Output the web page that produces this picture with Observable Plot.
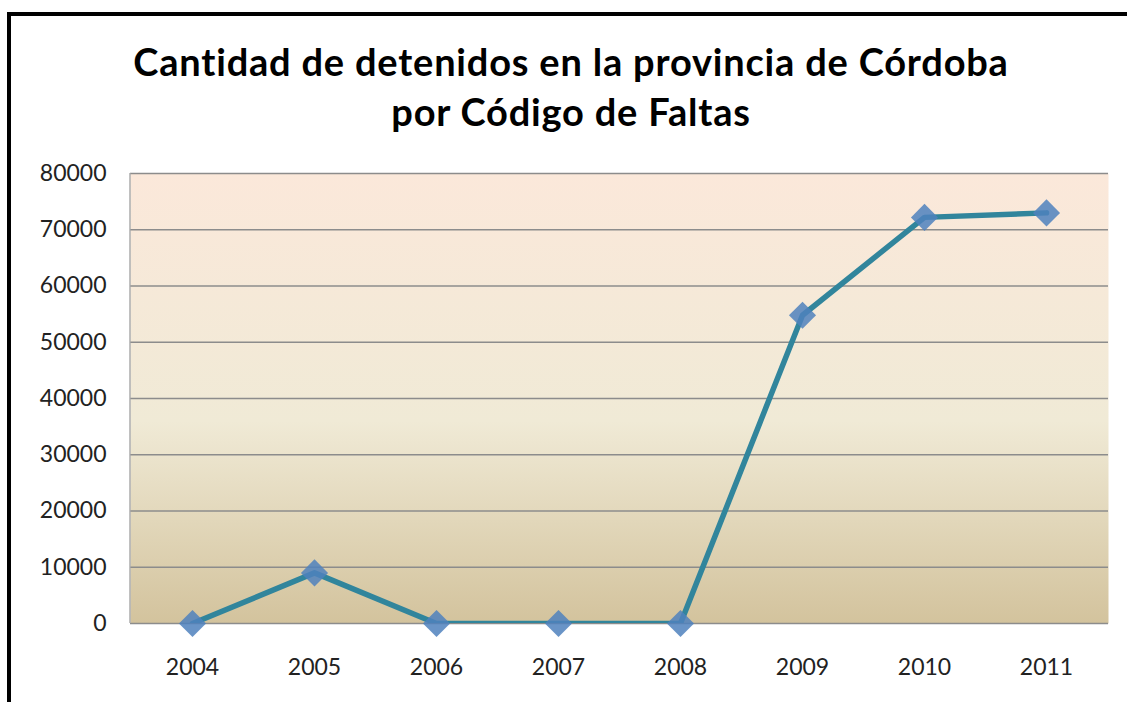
<!DOCTYPE html>
<html>
<head>
<meta charset="utf-8">
<script src="https://cdn.jsdelivr.net/npm/d3@7"></script>
<script src="https://cdn.jsdelivr.net/npm/@observablehq/plot@0.6"></script>
<style>
  html, body { margin: 0; padding: 0; background: #fff; overflow: hidden; width: 1127px; height: 702px; }
  #wrap { position: relative; width: 1127px; height: 702px; }
  #frame { position: absolute; left: 7px; top: 12px; width: 1200px; height: 800px;
           border-left: 4.5px solid #000; border-top: 4.5px solid #000; box-sizing: border-box; }
  #title { position: absolute; left: 0; top: 36px; width: 1142px; text-align: center;
           font-family: Lato, "Open Sans", sans-serif; font-weight: bold; font-size: 38px;
           letter-spacing: 0.8px; line-height: 50px; color: #000; }
  #chart { position: absolute; left: 0; top: 0; }
</style>
</head>
<body>
<div id="wrap">
  <div id="frame"></div>
  <div id="chart"></div>
  <div id="title">Cantidad de detenidos en la provincia de Córdoba<br>por Código de Faltas</div>
</div>
<script>
const years = ["2004", "2005", "2006", "2007", "2008", "2009", "2010", "2011"];
const detenidos = [0, 9000, 0, 0, 0, 54800, 72200, 73000];
const yTicks = [0, 10000, 20000, 30000, 40000, 50000, 60000, 70000, 80000];

const data = years.map((year, i) => ({year, value: detenidos[i]}));

const plot = Plot.plot({
  width: 1127,
  height: 702,
  marginLeft: 130,
  marginRight: 19,
  marginTop: 173,
  marginBottom: 79,
  style: {fontFamily: "Lato, 'Open Sans', sans-serif", fontSize: "23px", color: "#222", background: "transparent"},
  x: {type: "point", domain: years, padding: 0.5},
  y: {domain: [0, 80000]},
  marks: [
    Plot.frame({fill: "url(#bgGrad)", stroke: "none"}),
    Plot.gridY(yTicks, {stroke: "#8c8c8c", strokeOpacity: 1, strokeWidth: 1.4}),
    (index, scales, values, dimensions) => {
      const g = document.createElementNS("http://www.w3.org/2000/svg", "g");
      const defs = document.createElementNS("http://www.w3.org/2000/svg", "defs");
      defs.innerHTML = `<linearGradient id="bgGrad" x1="0" y1="0" x2="0" y2="1">
        <stop offset="0" stop-color="#fbe8da"/>
        <stop offset="0.55" stop-color="#f0ead6"/>
        <stop offset="1" stop-color="#d3c39d"/>
      </linearGradient>`;
      g.appendChild(defs);
      const l = document.createElementNS("http://www.w3.org/2000/svg", "line");
      const x0 = dimensions.marginLeft;
      l.setAttribute("x1", x0); l.setAttribute("x2", x0);
      l.setAttribute("y1", dimensions.marginTop);
      l.setAttribute("y2", dimensions.height - dimensions.marginBottom);
      l.setAttribute("stroke", "#a6a6a6");
      l.setAttribute("stroke-width", "1.4");
      g.appendChild(l);
      return g;
    },
    Plot.axisY({ticks: yTicks, tickSize: 0, tickPadding: 24, tickFormat: d => String(d), label: null, fontSize: 23}),
    Plot.axisX({tickSize: 0, tickPadding: 35, label: null, fontSize: 23}),
    Plot.line(data, {x: "year", y: "value", stroke: "#31859c", strokeWidth: 5.5, clip: true}),
    Plot.dot(data, {x: "year", y: "value", symbol: "diamond2", r: 12.2, fill: "#4f81bd", fillOpacity: 0.85, stroke: "none"})
  ]
});
document.getElementById("chart").appendChild(plot);
</script>
</body>
</html>
